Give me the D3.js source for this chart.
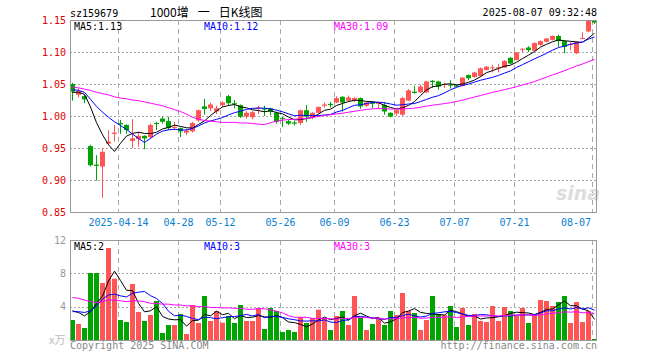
<!DOCTYPE html>
<html>
<head>
<meta charset="utf-8">
<script src="https://cdn.jsdelivr.net/npm/d3@7"></script>
<style>
body { margin: 0; background: #fff; }
svg text { font-family: "DejaVu Sans Mono", monospace; font-size: 10px; }
</style>
</head>
<body>
<svg id="chart" width="660" height="360"></svg>
<script>
// trading days shown
var dates = [
  "2025-04-01","2025-04-02","2025-04-03","2025-04-07","2025-04-08","2025-04-09","2025-04-10","2025-04-11",
  "2025-04-14","2025-04-15","2025-04-16","2025-04-17","2025-04-18","2025-04-21","2025-04-22","2025-04-23",
  "2025-04-24","2025-04-25","2025-04-28","2025-04-29","2025-04-30","2025-05-06","2025-05-07","2025-05-08",
  "2025-05-09","2025-05-12","2025-05-13","2025-05-14","2025-05-15","2025-05-16","2025-05-19","2025-05-20",
  "2025-05-21","2025-05-22","2025-05-23","2025-05-26","2025-05-27","2025-05-28","2025-05-29","2025-05-30",
  "2025-06-03","2025-06-04","2025-06-05","2025-06-06","2025-06-09","2025-06-10","2025-06-11","2025-06-12",
  "2025-06-13","2025-06-16","2025-06-17","2025-06-18","2025-06-19","2025-06-20","2025-06-23","2025-06-24",
  "2025-06-25","2025-06-26","2025-06-27","2025-06-30","2025-07-01","2025-07-02","2025-07-03","2025-07-04",
  "2025-07-07","2025-07-08","2025-07-09","2025-07-10","2025-07-11","2025-07-14","2025-07-15","2025-07-16",
  "2025-07-17","2025-07-18","2025-07-21","2025-07-22","2025-07-23","2025-07-24","2025-07-25","2025-07-28",
  "2025-07-29","2025-07-30","2025-07-31","2025-08-01","2025-08-04","2025-08-05","2025-08-06","2025-08-07"
];

var open = [
  1.050,1.033,1.031,0.953,0.924,0.921,0.957,0.972,0.989,0.986,0.961,0.964,0.969,0.967,0.989,0.996,
  0.992,0.982,0.981,0.974,0.976,0.993,1.015,1.012,1.007,1.017,1.031,1.020,1.017,0.999,0.998,1.011,
  1.012,1.012,1.005,0.997,0.992,0.990,0.989,1.009,0.998,1.005,1.016,1.019,1.021,1.030,1.024,1.024,
  1.028,1.016,1.021,1.019,1.017,1.005,1.004,1.002,1.024,1.038,1.037,1.037,1.055,1.054,1.049,1.049,
  1.048,1.047,1.064,1.061,1.0625,1.072,1.075,1.075,1.0755,1.091,1.0875,1.104,1.107,1.102,1.111,1.116,
  1.119,1.125,1.117,1.111,1.098,1.121,1.132,1.150
];
var high = [
  1.052,1.043,1.033,0.955,0.939,0.950,0.978,0.986,0.994,0.987,0.995,0.975,0.970,0.988,0.991,0.999,
  0.999,0.991,0.982,0.980,0.991,1.010,1.027,1.021,1.016,1.023,1.033,1.025,1.018,1.008,1.008,1.016,
  1.016,1.013,1.007,0.999,0.994,0.992,1.010,1.017,1.006,1.015,1.021,1.022,1.031,1.031,1.032,1.029,
  1.029,1.023,1.023,1.021,1.022,1.006,1.010,1.030,1.042,1.047,1.049,1.055,1.056,1.055,1.052,1.056,
  1.049,1.061,1.065,1.069,1.076,1.078,1.080,1.081,1.087,1.092,1.100,1.106,1.109,1.115,1.118,1.122,
  1.126,1.127,1.118,1.116,1.117,1.131,1.150,1.150
];
var low = [
  1.024,1.029,1.020,0.921,0.899,0.872,0.955,0.960,0.972,0.972,0.950,0.952,0.948,0.965,0.978,0.988,
  0.978,0.978,0.967,0.970,0.974,0.991,1.002,1.008,1.003,1.014,1.016,1.012,0.997,0.996,0.995,1.003,
  1.000,1.001,0.988,0.983,0.986,0.985,0.986,0.991,0.995,1.004,1.013,1.013,1.020,1.007,1.022,1.022,
  1.011,1.014,1.012,1.012,1.002,0.998,1.000,1.000,1.023,1.035,1.036,1.036,1.044,1.041,1.044,1.043,
  1.045,1.046,1.056,1.060,1.061,1.071,1.068,1.068,1.075,1.081,1.087,1.099,1.100,1.101,1.110,1.115,
  1.118,1.108,1.098,1.103,1.097,1.120,1.131,1.144
];
var close = [
  1.038,1.039,1.026,0.923,0.922,0.944,0.960,0.974,0.987,0.978,0.965,0.969,0.965,0.986,0.988,0.991,
  0.981,0.983,0.976,0.977,0.989,1.009,1.011,1.018,1.012,1.021,1.020,1.019,0.999,1.005,1.006,1.013,
  1.010,1.007,0.991,0.996,0.988,0.988,1.009,0.999,1.005,1.014,1.018,1.017,1.028,1.021,1.029,1.028,
  1.015,1.021,1.019,1.021,1.007,0.999,1.009,1.028,1.040,1.036,1.046,1.054,1.053,1.046,1.050,1.048,
  1.046,1.060,1.059,1.068,1.0745,1.077,1.076,1.076,1.086,1.082,1.0995,1.105,1.103,1.114,1.117,1.121,
  1.125,1.117,1.108,1.1125,1.116,1.122,1.150,1.146
];
// volume, 10k shares
var volume = [
  2.40,1.92,1.44,8.04,8.04,6.84,11.04,7.36,2.40,2.16,6.72,3.36,2.28,3.00,4.68,0.84,
  1.80,1.80,3.12,0.72,4.20,2.04,5.28,2.28,3.48,2.08,2.88,2.04,4.20,2.28,2.28,3.84,
  1.32,3.84,3.48,0.96,1.20,0.96,2.76,2.04,2.64,3.64,2.64,1.20,2.88,3.48,1.80,5.28,
  2.64,1.20,1.92,2.52,1.80,3.48,3.00,5.64,3.48,3.24,1.20,2.40,5.28,3.12,3.00,4.08,
  1.56,3.84,1.80,3.12,2.28,2.16,4.08,2.28,3.96,3.48,2.88,3.84,2.04,3.00,4.80,4.68,
  4.08,4.56,5.28,2.04,4.56,2.16,3.48,0.12
];

// averages before a full window exists
var priceMa5Lead = [1.037, 1.037, 1.034, 1.014];
var priceMa10Lead = [1.041, 1.040, 1.037, 1.026, 1.015, 1.006, 0.998, 0.991, 0.985];
var priceMa30Lead = [1.045, 1.044, 1.042, 1.040, 1.037, 1.035, 1.033, 1.030, 1.028, 1.027,
  1.025, 1.024, 1.022, 1.020, 1.018, 1.016, 1.013, 1.010, 1.007, 1.003,
  0.998, 0.995, 0.993, 0.992, 0.991, 0.990, 0.990, 0.990, 0.989];
var volMa5Lead = [3.5, 3.3, 2.9, 3.4];
var volMa10Lead = [3.4, 3.4, 3.3, 3.5, 4.1, 4.9, 5.4, 5.5, 5.3];
var volMa30Lead = [5.1, 5.0, 4.8, 4.6, 4.5, 4.6, 4.8, 4.8, 4.7, 4.6,
  4.7, 4.7, 4.6, 4.4, 4.4, 4.3, 4.3, 4.2, 4.2, 4.1,
  4.1, 4.0, 4.0, 3.9, 3.9, 3.85, 3.85, 3.8, 3.8];

var tickDates = ["2025-04-14","2025-04-28","2025-05-12","2025-05-26","2025-06-09",
  "2025-06-23","2025-07-07","2025-07-21","2025-08-07"];
var priceTicks = [1.15, 1.10, 1.05, 1.00, 0.95, 0.90, 0.85];
var volTicks = [12, 8, 4];

var symbol = "sz159679",
    title = ["1000增", "一", "日K线图"],
    stamp = "2025-08-07 09:32:48";

var RED = "#ff5555", GREEN = "#00a400", GRID = "#aaa", FRAME = "#999";

var svg = d3.select("#chart"),
    left = 70, right = 597,
    main = {top: 20, bottom: 212},
    vol = {top: 240, bottom: 340};

function movingAvg(values, n, lead) {
  return values.map(function(v, i) {
    return i < n - 1 ? lead[i] : d3.mean(values.slice(i - n + 1, i + 1));
  });
}

var x = d3.scaleBand().domain(dates).range([69, 597]);
var cx = function(d) { return x(d) + 3.5; };

var y = d3.scaleLinear().domain([0.85, 1.15]).range([main.bottom, main.top]);
var yv = d3.scaleLinear().domain([0, 12]).range([vol.bottom, vol.top]);

var up = close.map(function(c, i) { return c >= open[i]; });

// header
svg.append("text").attr("x", 70).attr("y", 17).text(symbol);
var t = svg.append("text").attr("x", 150).attr("y", 17)
    .style("font-family", "'Noto Sans CJK SC', sans-serif").style("font-size", "12px");
t.selectAll("tspan").data(title).enter().append("tspan")
    .attr("dx", function(d, i) { return i ? 9 : 0; })
    .text(function(d) { return d; });
svg.append("text").attr("x", 597).attr("y", 16).attr("text-anchor", "end").text(stamp);

// grids
function grid(panel, ys, ticks) {
  var g = svg.append("g");
  g.selectAll(".h").data(ticks).enter().append("line")
      .attr("x1", left).attr("x2", right)
      .attr("y1", function(d) { return Math.round(ys(d)) + 0.5; })
      .attr("y2", function(d) { return Math.round(ys(d)) + 0.5; })
      .attr("stroke", GRID).attr("stroke-dasharray", "2,2");
  g.selectAll(".v").data(tickDates).enter().append("line")
      .attr("x1", function(d) { return x(d) + 1.5; })
      .attr("x2", function(d) { return x(d) + 1.5; })
      .attr("y1", panel.top).attr("y2", panel.bottom)
      .attr("stroke", GRID).attr("stroke-dasharray", "5,4");
}
grid(main, y, priceTicks.slice(1, -1));
grid(vol, yv, volTicks.slice(1));

// watermark
svg.append("text").attr("x", 556).attr("y", 200)
    .style("font-family", "'DejaVu Sans', sans-serif").style("font-size", "19px")
    .style("font-style", "italic").style("font-weight", "bold")
    .attr("fill", "#ddd").text("sina");

// price axis
svg.append("g")
    .attr("transform", "translate(" + left + ",0)")
    .call(d3.axisLeft(y).tickValues(priceTicks).tickSize(0).tickPadding(4).tickFormat(d3.format(".2f")))
    .call(function(g) { g.select(".domain").remove(); })
    .selectAll("text").attr("fill", "#e00000")
    .style("font-family", "'DejaVu Sans Mono', monospace").style("font-size", "10px");

// volume axis
svg.append("g")
    .attr("transform", "translate(" + left + ",0)")
    .call(d3.axisLeft(yv).tickValues(volTicks).tickSize(0).tickPadding(4))
    .call(function(g) { g.select(".domain").remove(); })
    .selectAll("text").attr("fill", "#999")
    .style("font-family", "'DejaVu Sans Mono', monospace").style("font-size", "10px");
svg.append("text").attr("x", 49).attr("y", 344)
    .style("font-family", "'Noto Sans CJK SC', sans-serif").style("font-size", "11px")
    .attr("fill", "#bbb").text("x万");

// date labels
svg.append("g").selectAll("text").data(tickDates).enter().append("text")
    .attr("x", function(d) { return x(d) + 1.5; })
    .attr("y", 226)
    .attr("text-anchor", "middle")
    .attr("fill", "#0a80d0")
    .text(function(d, i) { return i === 0 ? d : d.slice(5); })
    .each(function() {
      var w = this.getComputedTextLength(), px = +this.getAttribute("x");
      if (px + w / 2 > right - 5) d3.select(this).attr("x", right - 6 - w / 2);
    });

// candles
var candles = svg.append("g");
candles.selectAll("line").data(dates).enter().append("line")
    .attr("x1", cx).attr("x2", cx)
    .attr("y1", function(d, i) { return y(high[i]); })
    .attr("y2", function(d, i) { return y(low[i]); })
    .attr("stroke", function(d, i) { return up[i] ? RED : GREEN; });
candles.selectAll("rect").data(dates).enter().append("rect")
    .attr("x", function(d) { return x(d) + 1; })
    .attr("width", 5)
    .attr("y", function(d, i) { return y(Math.max(open[i], close[i])); })
    .attr("height", function(d, i) { return Math.max(1, Math.abs(y(open[i]) - y(close[i]))); })
    .attr("fill", function(d, i) { return up[i] ? RED : GREEN; });

// volume bars
svg.append("g").selectAll("rect").data(dates).enter().append("rect")
    .attr("x", function(d) { return x(d) + 1; })
    .attr("width", 5)
    .attr("y", function(d, i) { return yv(volume[i]); })
    .attr("height", function(d, i) { return vol.bottom - yv(volume[i]); })
    .attr("fill", function(d, i) { return up[i] ? RED : GREEN; });

// moving averages
var series = [
  {n: 5, color: "#000", lead: priceMa5Lead, vlead: volMa5Lead, lx: 74},
  {n: 10, color: "#0000ff", lead: priceMa10Lead, vlead: volMa10Lead, lx: 204},
  {n: 30, color: "#ff00ff", lead: priceMa30Lead, vlead: volMa30Lead, lx: 334}
];

series.forEach(function(s) {
  var pm = movingAvg(close, s.n, s.lead),
      vm = movingAvg(volume, s.n, s.vlead);

  svg.append("path")
      .datum(pm)
      .attr("fill", "none").attr("stroke", s.color).attr("stroke-width", 1)
      .attr("d", d3.line().x(function(d, i) { return cx(dates[i]); }).y(function(d) { return y(d); }));
  svg.append("path")
      .datum(vm)
      .attr("fill", "none").attr("stroke", s.color).attr("stroke-width", 1)
      .attr("d", d3.line().x(function(d, i) { return cx(dates[i]); }).y(function(d) { return yv(d); }));

  svg.append("text").attr("x", s.lx).attr("y", 30).attr("fill", s.color)
      .text("MA" + s.n + ":" + d3.format(".2f")(pm[pm.length - 1]));
  svg.append("text").attr("x", s.lx).attr("y", 250).attr("fill", s.color)
      .text("MA" + s.n + ":" + Math.floor(vm[vm.length - 1]));
});
svg.append("rect").attr("x", 106).attr("y", 248).attr("width", 5).attr("height", 2).attr("fill", RED);

// frames
[main, vol].forEach(function(p) {
  svg.append("rect")
      .attr("x", left + 0.5).attr("y", p.top + 0.5)
      .attr("width", right - left - 1).attr("height", p.bottom - p.top)
      .attr("fill", "none").attr("stroke", FRAME);
});

// footer
svg.append("text").attr("x", 70).attr("y", 349).attr("fill", "#888").text("Copyright 2025 SINA.COM");
svg.append("text").attr("x", 597).attr("y", 349).attr("text-anchor", "end").attr("fill", "#888")
    .text("http://finance.sina.com.cn");
</script>
</body>
</html>
